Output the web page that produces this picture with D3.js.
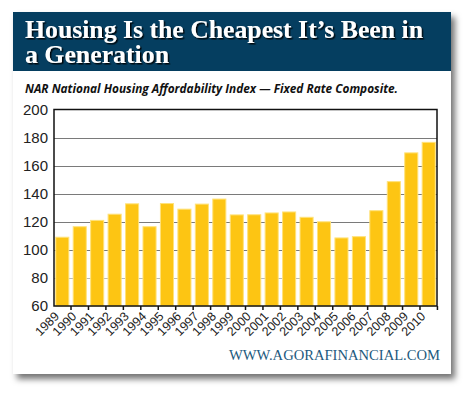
<!DOCTYPE html>
<html>
<head>
<meta charset="utf-8">
<script src="https://cdn.jsdelivr.net/npm/d3@7"></script>
<style>
  body { margin: 0; background: #fff; }
</style>
</head>
<body>
<svg id="chart" width="470" height="395"></svg>
<script>
// data
const years = ["1989", "1990", "1991", "1992", "1993", "1994", "1995", "1996", "1997", "1998", "1999",
    "2000", "2001", "2002", "2003", "2004", "2005", "2006", "2007", "2008", "2009", "2010"];
const affordability = [109, 116.5, 121, 125.4, 132.8, 116.5, 133, 129, 132.6, 136.2, 124.9,
    125, 126.3, 127, 123.2, 120, 108.5, 109.4, 127.9, 148.6, 169.1, 176.6];
const yTicks = [60, 80, 100, 120, 140, 160, 180, 200];

const titleLines = ["Housing Is the Cheapest It\u2019s Been in", "a Generation"];
const subtitle = "NAR National Housing Affordability Index \u2014 Fixed Rate Composite.";
const source = "WWW.AGORAFINANCIAL.COM";

const svg = d3.select("#chart");

const defs = svg.append("defs");
// drop shadow for the card
defs.append("filter")
    .attr("id", "shadow")
    .attr("x", "-10%").attr("y", "-10%")
    .attr("width", "120%").attr("height", "120%")
    .append("feDropShadow")
    .attr("dx", 4).attr("dy", 5)
    .attr("stdDeviation", 3)
    .attr("flood-color", "#000")
    .attr("flood-opacity", 0.55);
// small hard shadow behind the title letters
defs.append("filter")
    .attr("id", "titleShadow")
    .attr("x", "-5%").attr("y", "-20%")
    .attr("width", "110%").attr("height", "140%")
    .append("feDropShadow")
    .attr("dx", 1.5).attr("dy", 1.5)
    .attr("stdDeviation", 0.6)
    .attr("flood-color", "#000")
    .attr("flood-opacity", 0.85);

// card + title band
svg.append("rect")
    .attr("x", 13).attr("y", 12)
    .attr("width", 438).attr("height", 362)
    .attr("fill", "#fff")
    .attr("filter", "url(#shadow)");

svg.append("rect")
    .attr("x", 13).attr("y", 12)
    .attr("width", 438).attr("height", 59)
    .attr("fill", "#053e60");

const titleG = svg.append("g")
    .attr("font-family", "'Liberation Serif', serif")
    .attr("font-weight", "bold")
    .attr("font-size", "26px")
    .attr("fill", "#fff")
    .attr("filter", "url(#titleShadow)");

titleLines.forEach((t, i) => {
    titleG.append("text")
        .attr("x", 25).attr("y", 37.5 + i * 25)
        .attr("textLength", i === 0 ? 398 : 144)
        .attr("lengthAdjust", "spacingAndGlyphs")
        .text(t);
});

svg.append("text")
    .attr("x", 25).attr("y", 92.5)
    .attr("font-family", "'Open Sans', sans-serif")
    .attr("font-weight", "bold")
    .attr("font-style", "italic")
    .attr("font-size", "13px")
    .attr("fill", "#111")
    .attr("textLength", 373)
    .attr("lengthAdjust", "spacingAndGlyphs")
    .text(subtitle);

// plot
const plotLeft = 54, plotRight = 437, plotTop = 109.5, plotBottom = 306;

const x = d3.scaleBand()
    .domain(years)
    .range([plotLeft, plotRight])
    .paddingInner(0.25)
    .paddingOuter(0.1);

const y = d3.scaleLinear()
    .domain([60, 200])
    .range([plotBottom, plotTop]);

// grid lines
svg.append("g")
    .selectAll("line")
    .data(yTicks.slice(1, -1))
    .enter().append("line")
    .attr("x1", plotLeft).attr("x2", plotRight)
    .attr("y1", d => Math.round(y(d)) + 0.5)
    .attr("y2", d => Math.round(y(d)) + 0.5)
    .attr("stroke", d => d === 80 ? "#bbb" : "#7a7a7a")
    .attr("stroke-width", 1.2);

// bars
svg.append("g")
    .selectAll("rect")
    .data(affordability)
    .enter().append("rect")
    .attr("x", (d, i) => x(years[i]))
    .attr("y", d => y(d))
    .attr("width", x.bandwidth())
    .attr("height", d => plotBottom - y(d))
    .attr("fill", "#fdc513")
    .attr("stroke", "#ffe27a")
    .attr("stroke-width", 1);

// frame
svg.append("rect")
    .attr("x", plotLeft).attr("y", plotTop)
    .attr("width", plotRight - plotLeft).attr("height", plotBottom - plotTop)
    .attr("fill", "none")
    .attr("stroke", "#111")
    .attr("stroke-width", 1.5);

// y axis labels
svg.append("g")
    .selectAll("text")
    .data(yTicks)
    .enter().append("text")
    .attr("x", 48)
    .attr("y", d => y(d))
    .attr("dy", "0.36em")
    .attr("text-anchor", "end")
    .attr("font-family", "'Liberation Sans', sans-serif")
    .attr("font-size", "15px")
    .attr("fill", "#222")
    .text(d => d);

// x ticks at band boundaries
const step = x.step();
svg.append("g")
    .selectAll("line")
    .data(years)
    .enter().append("line")
    .attr("x1", d => x(d) + x.bandwidth() + (step - x.bandwidth()) / 2)
    .attr("x2", d => x(d) + x.bandwidth() + (step - x.bandwidth()) / 2)
    .attr("y1", plotBottom)
    .attr("y2", plotBottom + 4)
    .attr("stroke", "#111")
    .attr("stroke-width", 1.5);

// x labels, rotated
svg.append("g")
    .selectAll("text")
    .data(years)
    .enter().append("text")
    .attr("transform", d => `translate(${x(d) + 1},${plotBottom + 8}) rotate(-45)`)
    .attr("text-anchor", "end")
    .attr("dy", "0.35em")
    .attr("font-family", "'Liberation Sans', sans-serif")
    .attr("font-size", "12.5px")
    .attr("fill", "#222")
    .text(d => d);

// source
svg.append("text")
    .attr("x", 229).attr("y", 359.5)
    .attr("font-family", "'Liberation Serif', serif")
    .attr("font-size", "14px")
    .attr("fill", "#1c5a7e")
    .attr("textLength", 211)
    .attr("lengthAdjust", "spacingAndGlyphs")
    .text(source);
</script>
</body>
</html>
